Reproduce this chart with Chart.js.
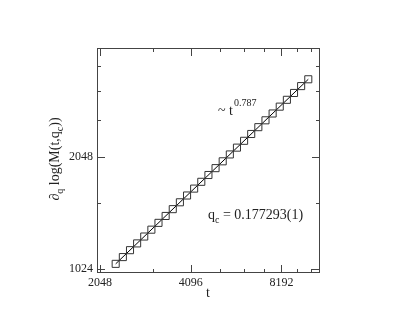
<!DOCTYPE html>
<html lang="en">
<head>
    <meta charset="UTF-8">
    <title>dq log M(t,qc) vs t</title>
    <script src="https://cdn.jsdelivr.net/npm/chart.js"></script>
    <style>
        html, body { margin: 0; padding: 0; background: #fff; }
        #wrap { width: 415px; height: 321px; }
    </style>
</head>
<body>
    <div id="wrap">
        <canvas id="scalingChart" width="415" height="321"></canvas>
    </div>

    <script>
        // data
        const tValues = [2307, 2437, 2574, 2718, 2870, 3031, 3200, 3380, 3569, 3769,
                         3981, 4203, 4439, 4688, 4950, 5228, 5521, 5830, 6157, 6502,
                         6866, 7251, 7658, 8086, 8540, 9019, 9523, 10058];
        const dqLogM = [1058, 1103, 1151, 1200, 1252, 1306, 1362, 1421, 1482, 1546,
                        1612, 1682, 1754, 1829, 1908, 1990, 2076, 2165, 2258, 2355,
                        2456, 2562, 2672, 2787, 2907, 3032, 3163, 3299];
        const fitT = [2307, 10058];
        const fitY = [1058, 3299];

        const xMajor = [2048, 4096, 8192];
        const xMinor = [3072, 5120, 6144, 7168, 9216, 10240];
        const yMajor = [1024, 2048];
        const yMinor = [1536, 2560, 3072, 3584];

        const serif = "'Liberation Serif', 'DejaVu Serif', serif";
        const ink = "#222";

        // frame + inward ticks on all four sides, plus the text annotations
        const framePlugin = {
            id: "frame",
            afterDraw(chart) {
                const ctx = chart.ctx;
                const a = chart.chartArea;
                const xs = chart.scales.x, ys = chart.scales.y;
                ctx.save();
                ctx.strokeStyle = "#444";
                ctx.lineWidth = 1;
                ctx.strokeRect(a.left + 0.5, a.top + 0.5, a.right - a.left - 1, a.bottom - a.top - 1);

                ctx.beginPath();
                const xt = (v, len) => {
                    const p = Math.round(xs.getPixelForValue(v)) + 0.5;
                    ctx.moveTo(p, a.bottom); ctx.lineTo(p, a.bottom - len);
                    ctx.moveTo(p, a.top); ctx.lineTo(p, a.top + len);
                };
                const yt = (v, len) => {
                    const p = Math.round(ys.getPixelForValue(v)) + 0.5;
                    ctx.moveTo(a.left, p); ctx.lineTo(a.left + len, p);
                    ctx.moveTo(a.right, p); ctx.lineTo(a.right - len, p);
                };
                xMajor.forEach(v => xt(v, 8));
                xMinor.forEach(v => xt(v, 4));
                yMajor.forEach(v => yt(v, 8));
                yMinor.forEach(v => yt(v, 4));
                ctx.stroke();

                ctx.fillStyle = ink;
                ctx.textBaseline = "alphabetic";

                // x title
                ctx.font = "14px " + serif;
                ctx.textAlign = "center";
                ctx.fillText("t", 208, 297);

                // y title, rotated, with subscripts
                const parts = [
                    ["\u2202", 14, 0], ["q", 10, 4], [" log(M(t,q", 14, 0], ["c", 10, 4], ["))", 14, 0]
                ];
                let total = 0;
                parts.forEach(p => { ctx.font = p[1] + "px " + serif; total += ctx.measureText(p[0]).width; });
                ctx.translate(59, 159);
                ctx.rotate(-Math.PI / 2);
                ctx.textAlign = "left";
                let x = -total / 2;
                parts.forEach(p => {
                    ctx.font = p[1] + "px " + serif;
                    ctx.fillText(p[0], x, p[2]);
                    x += ctx.measureText(p[0]).width;
                });
                ctx.setTransform(1, 0, 0, 1, 0, 0);

                // ~ t^0.787
                ctx.textAlign = "left";
                ctx.font = "14px " + serif;
                ctx.fillText("~ t", 218, 115);
                let w = ctx.measureText("~ t").width;
                ctx.font = "10px " + serif;
                ctx.fillText("0.787", 218 + w + 1, 106);

                // q_c = 0.177293(1)
                ctx.font = "14px " + serif;
                ctx.fillText("q", 208, 219);
                w = ctx.measureText("q").width;
                ctx.font = "10px " + serif;
                ctx.fillText("c", 208 + w, 223);
                const wc = ctx.measureText("c").width;
                ctx.font = "14px " + serif;
                ctx.fillText(" = 0.177293(1)", 208 + w + wc, 219);
                ctx.restore();
            }
        };

        const ctxMain = document.getElementById("scalingChart").getContext("2d");
        new Chart(ctxMain, {
            type: "scatter",
            data: {
                datasets: [
                    {
                        label: "data",
                        data: tValues.map((t, i) => ({ x: t, y: dqLogM[i] })),
                        showLine: false,
                        pointStyle: "rect",
                        pointRadius: 5,
                        pointBorderWidth: 1,
                        borderColor: "#333",
                        backgroundColor: "rgba(0,0,0,0)"
                    },
                    {
                        label: "fit",
                        data: fitT.map((t, i) => ({ x: t, y: fitY[i] })),
                        showLine: true,
                        pointRadius: 0,
                        borderColor: "#000",
                        borderWidth: 1
                    }
                ]
            },
            options: {
                responsive: false,
                animation: false,
                events: [],
                layout: { padding: { left: 0, right: 95, top: 48, bottom: 0 } },
                plugins: {
                    legend: { display: false },
                    tooltip: { enabled: false }
                },
                scales: {
                    x: {
                        type: "logarithmic",
                        min: 2000,
                        max: 11000,
                        afterBuildTicks: s => { s.ticks = xMajor.map(v => ({ value: v })); },
                        afterFit: s => { s.height = 48; },
                        grid: { display: false, drawTicks: false, tickLength: 0 },
                        border: { display: false },
                        ticks: {
                            autoSkip: false,
                            maxRotation: 0,
                            padding: 3,
                            color: ink,
                            font: { family: serif, size: 12 },
                            callback: v => String(v)
                        }
                    },
                    y: {
                        type: "logarithmic",
                        min: 1000,
                        max: 4000,
                        afterBuildTicks: s => { s.ticks = yMajor.map(v => ({ value: v })); },
                        afterFit: s => { s.width = 97; },
                        grid: { display: false, drawTicks: false, tickLength: 0 },
                        border: { display: false },
                        ticks: {
                            autoSkip: false,
                            padding: 4,
                            color: ink,
                            font: { family: serif, size: 12 },
                            callback: v => String(v)
                        }
                    }
                }
            },
            plugins: [framePlugin]
        });
    </script>
</body>
</html>
